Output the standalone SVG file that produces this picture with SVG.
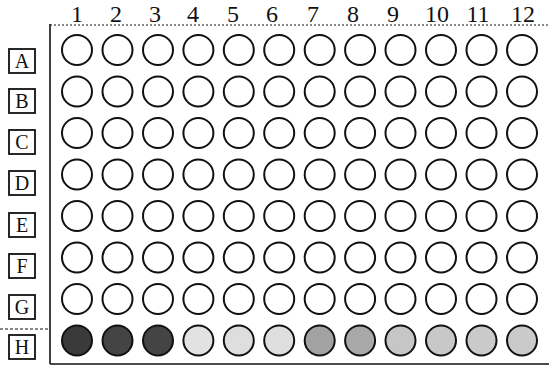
<svg xmlns="http://www.w3.org/2000/svg" width="549" height="367" viewBox="0 0 549 367">
<style>
.num{font-family:"Liberation Serif",serif;font-size:24px;fill:#111;text-anchor:middle}
.lbl{font-family:"Liberation Serif",serif;font-size:20px;fill:#111;text-anchor:middle}
.box{fill:#fff;stroke:#111;stroke-width:1.8}
.well{fill:#fff;stroke:#111;stroke-width:2}
.frame{stroke:#111;fill:none}
</style>
<rect width="549" height="367" fill="#fff"/>
<g id="frame">
<line class="frame" x1="50" y1="25" x2="549" y2="25" stroke-width="1" stroke-dasharray="2 2" stroke="#888"/>
<line class="frame" x1="50" y1="24" x2="50" y2="364" stroke-width="1.6"/>
<line class="frame" x1="50" y1="364" x2="549" y2="364" stroke-width="1.6"/>
<line class="frame" x1="0" y1="329" x2="50" y2="329" stroke-width="1" stroke-dasharray="3 2"/>
</g>
<g id="col-labels">
<text class="num" x="77" y="22">1</text>
<text class="num" x="116" y="22">2</text>
<text class="num" x="155" y="22">3</text>
<text class="num" x="193" y="22">4</text>
<text class="num" x="233" y="22">5</text>
<text class="num" x="272" y="22">6</text>
<text class="num" x="313" y="22">7</text>
<text class="num" x="353" y="22">8</text>
<text class="num" x="393" y="22">9</text>
<text class="num" x="437" y="22">10</text>
<text class="num" x="478" y="22">11</text>
<text class="num" x="523" y="22">12</text>
</g>
<g id="row-A"><rect class="box" x="9" y="49" width="26" height="24"/><text class="lbl" x="22" y="68">A</text></g>
<g id="row-B"><rect class="box" x="9" y="89" width="26" height="24"/><text class="lbl" x="22" y="108">B</text></g>
<g id="row-C"><rect class="box" x="9" y="130" width="26" height="24"/><text class="lbl" x="22" y="149">C</text></g>
<g id="row-D"><rect class="box" x="9" y="171" width="26" height="24"/><text class="lbl" x="22" y="190">D</text></g>
<g id="row-E"><rect class="box" x="9" y="213" width="26" height="24"/><text class="lbl" x="22" y="232">E</text></g>
<g id="row-F"><rect class="box" x="9" y="254" width="26" height="24"/><text class="lbl" x="22" y="273">F</text></g>
<g id="row-G"><rect class="box" x="9" y="295" width="26" height="24"/><text class="lbl" x="22" y="314">G</text></g>
<g id="row-H"><rect class="box" x="9" y="335" width="26" height="24"/><text class="lbl" x="22" y="354">H</text></g>
<defs>
<g id="r">
<circle class="well" cx="77" cy="0" r="15"/>
<circle class="well" cx="117.5" cy="0" r="15"/>
<circle class="well" cx="158" cy="0" r="15"/>
<circle class="well" cx="198.4" cy="0" r="15"/>
<circle class="well" cx="238.8" cy="0" r="15"/>
<circle class="well" cx="279.2" cy="0" r="15"/>
<circle class="well" cx="319.7" cy="0" r="15"/>
<circle class="well" cx="360.1" cy="0" r="15"/>
<circle class="well" cx="400.5" cy="0" r="15"/>
<circle class="well" cx="441" cy="0" r="15"/>
<circle class="well" cx="481.5" cy="0" r="15"/>
<circle class="well" cx="522" cy="0" r="15"/>
</g>
</defs>
<g id="wells-A"><use href="#r" y="50"/></g>
<g id="wells-B"><use href="#r" y="91.5"/></g>
<g id="wells-C"><use href="#r" y="133"/></g>
<g id="wells-D"><use href="#r" y="174.5"/></g>
<g id="wells-E"><use href="#r" y="216"/></g>
<g id="wells-F"><use href="#r" y="257.5"/></g>
<g id="wells-G"><use href="#r" y="299"/></g>
<g id="wells-H">
<circle class="well" cx="77" cy="340.5" r="15" style="fill:#3a3a3a"/>
<circle class="well" cx="117.5" cy="340.5" r="15" style="fill:#444"/>
<circle class="well" cx="158" cy="340.5" r="15" style="fill:#444"/>
<circle class="well" cx="198.4" cy="340.5" r="15" style="fill:#e2e2e2"/>
<circle class="well" cx="238.8" cy="340.5" r="15" style="fill:#dedede"/>
<circle class="well" cx="279.2" cy="340.5" r="15" style="fill:#dedede"/>
<circle class="well" cx="319.7" cy="340.5" r="15" style="fill:#a2a2a2"/>
<circle class="well" cx="360.1" cy="340.5" r="15" style="fill:#a8a8a8"/>
<circle class="well" cx="400.5" cy="340.5" r="15" style="fill:#c6c6c6"/>
<circle class="well" cx="441" cy="340.5" r="15" style="fill:#c8c8c8"/>
<circle class="well" cx="481.5" cy="340.5" r="15" style="fill:#cacaca"/>
<circle class="well" cx="522" cy="340.5" r="15" style="fill:#cacaca"/>
</g>
</svg>
